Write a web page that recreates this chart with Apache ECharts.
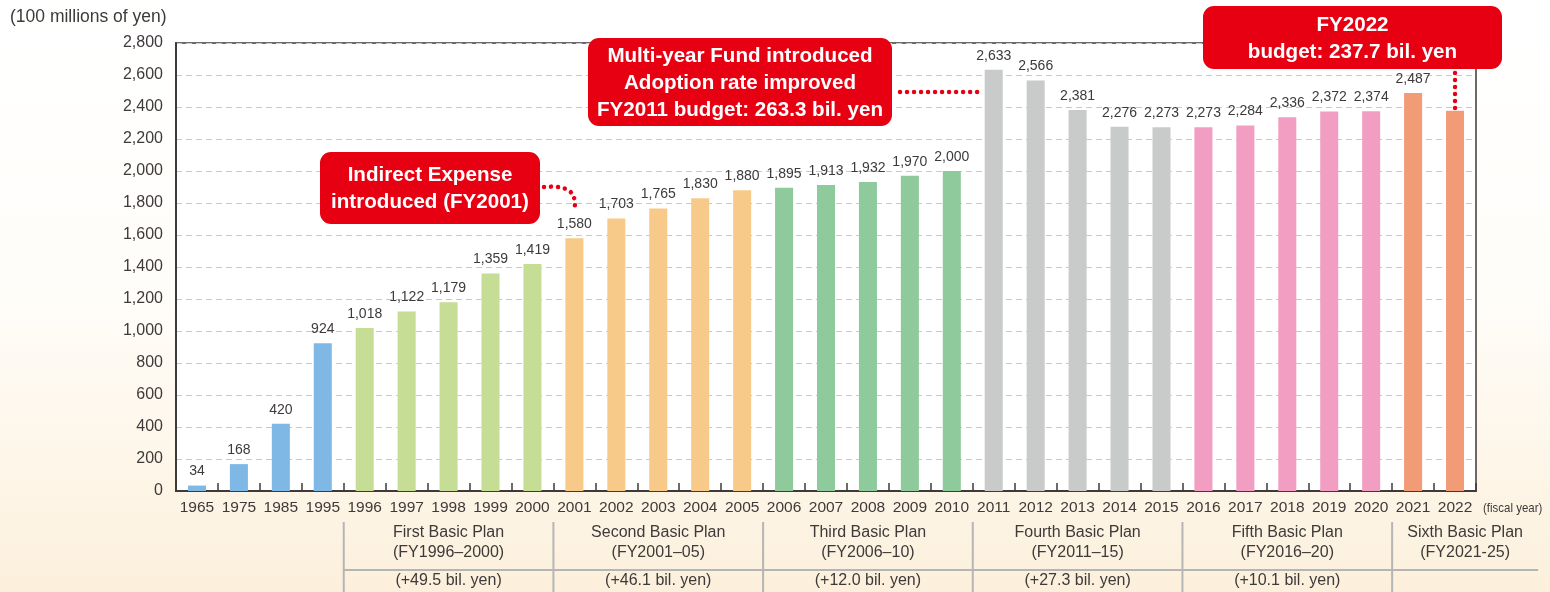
<!DOCTYPE html>
<html><head><meta charset="utf-8">
<script src="https://cdn.jsdelivr.net/npm/echarts@6/dist/echarts.min.js"></script>
<style>html,body{margin:0;padding:0;background:#fff;}#c{width:1550px;height:592px;}</style>
</head><body><div id="c"></div>
<script>
// ---- data ----
const categories = ['1965','1975','1985','1995','1996','1997','1998','1999','2000','2001','2002','2003','2004','2005','2006','2007','2008','2009','2010','2011','2012','2013','2014','2015','2016','2017','2018','2019','2020','2021','2022'];
const values = [34,168,420,924,1018,1122,1179,1359,1419,1580,1703,1765,1830,1880,1895,1913,1932,1970,2000,2633,2566,2381,2276,2273,2273,2284,2336,2372,2374,2487,2377];
const yMin = 0, yMax = 2800, yStep = 200;
const unitLabel = '(100 millions of yen)';
const xUnitLabel = '(fiscal year)';
const planNames = ['First Basic Plan','Second Basic Plan','Third Basic Plan','Fourth Basic Plan','Fifth Basic Plan','Sixth Basic Plan'];
const planPeriods = ['(FY1996–2000)','(FY2001–05)','(FY2006–10)','(FY2011–15)','(FY2016–20)','(FY2021-25)'];
const planIncreases = ['(+49.5 bil. yen)','(+46.1 bil. yen)','(+12.0 bil. yen)','(+27.3 bil. yen)','(+10.1 bil. yen)',''];
const planFirstYear = ['1996','2001','2006','2011','2016','2021'];
const planLastYear = ['2000','2005','2010','2015','2020','2022'];
const noteTexts = [
  ['Indirect Expense','introduced (FY2001)'],
  ['Multi-year Fund introduced','Adoption rate improved','FY2011 budget: 263.3 bil. yen'],
  ['FY2022','budget: 237.7 bil. yen']
];
const noteYears = ['2001','2011','2022'];

// ---- styles ----
const preColor = '#7fb8e4';
const planColors = ['#c5dd95','#f8ca89','#8fca9c','#c9caca','#f19ec2','#f29c77'];
const txt = '#3e3a39';
const red = '#e60012';
const fontMain = '"Liberation Sans", Arial, sans-serif';

function colorFor(i){
  const y = +categories[i];
  for (let p = 0; p < planFirstYear.length; p++) {
    if (y >= +planFirstYear[p] && y <= +planLastYear[p]) return planColors[p];
  }
  return preColor;
}
const hiddenLabelIdx = categories.indexOf('2022');
const barData = values.map((v,i)=>({
  value: v,
  itemStyle:{color: colorFor(i)},
  label:{show: i !== hiddenLabelIdx}
}));

const chart = echarts.init(document.getElementById('c'), null, {renderer:'canvas'});
chart.setOption({
  animation:false,
  backgroundColor: new echarts.graphic.LinearGradient(0,0,0,1,[
    {offset:0,color:'#ffffff'},{offset:0.5,color:'#fffdf9'},{offset:1,color:'#fcf0dc'}]),
  grid:{left:176,right:74,top:43,bottom:101,show:true,backgroundColor:'#fff',borderColor:txt,borderWidth:1.5},
  xAxis:{type:'category',data:categories,
    axisLine:{lineStyle:{color:txt,width:2}},
    axisTick:{show:true,inside:true,length:8,alignWithLabel:false,lineStyle:{color:txt,width:1.5}},
    axisLabel:{color:txt,fontFamily:fontMain,fontSize:15.5,margin:9,interval:0}},
  yAxis:{type:'value',min:yMin,max:yMax,interval:yStep,
    axisLine:{show:true,lineStyle:{color:txt,width:2}},
    axisTick:{show:false},
    axisLabel:{color:txt,fontFamily:fontMain,fontSize:16,margin:13,formatter:v=>v.toLocaleString('en-US')},
    splitLine:{lineStyle:{color:'#c9caca',type:[6,4],width:1}}},
  series:[{type:'bar',data:barData,barWidth:'43%',
    label:{show:true,position:'top',distance:7,color:txt,fontFamily:fontMain,fontSize:14,
      formatter:p=>p.value.toLocaleString('en-US')}}]
});

function px(cat,val){ return chart.convertToPixel({gridIndex:0},[cat,val]); }
const catW = px(categories[1],0)[0]-px(categories[0],0)[0];
const g = [];
// unit labels
g.push({type:'text',left:10,top:8,style:{text:unitLabel,fill:txt,fontFamily:fontMain,fontSize:17.5}});
const lastX = px(categories[categories.length-1],0);
g.push({type:'text',x:lastX[0]+catW/2+7,y:lastX[1]+17,scaleX:0.85,style:{text:xUnitLabel,fill:txt,fontFamily:fontMain,fontSize:13.5,verticalAlign:'middle'}});

// plan table
const lineCol = '#b5b5b6';
const tTop = 522, tMid = 570, tBot = 592;
const tableExtra = 146 - 2*catW; // last column extends beyond the final category
for (let p=0;p<planNames.length;p++){
  const x0 = px(planFirstYear[p],0)[0]-catW/2;
  let x1 = px(planLastYear[p],0)[0]+catW/2;
  if (p === planNames.length-1) x1 += tableExtra;
  const cx = (x0+x1)/2;
  g.push({type:'line',shape:{x1:x0,y1:tTop,x2:x0,y2:tBot},style:{stroke:lineCol,lineWidth:2}});
  g.push({type:'text',x:cx,y:533,style:{text:planNames[p],fill:txt,fontFamily:fontMain,fontSize:16,align:'center',verticalAlign:'middle'}});
  g.push({type:'text',x:cx,y:553,style:{text:planPeriods[p],fill:txt,fontFamily:fontMain,fontSize:16,align:'center',verticalAlign:'middle'}});
  if (planIncreases[p]) g.push({type:'text',x:cx,y:581,style:{text:planIncreases[p],fill:txt,fontFamily:fontMain,fontSize:16,align:'center',verticalAlign:'middle'}});
  if (p === planNames.length-1) {
    const firstX = px(planFirstYear[0],0)[0]-catW/2;
    g.push({type:'line',shape:{x1:firstX,y1:tMid,x2:x1,y2:tMid},style:{stroke:lineCol,lineWidth:2}});
  }
}

// annotations
const boxes = [
  {x:320,y:152,w:220,h:72},
  {x:588,y:38,w:304,h:88},
  {x:1203,y:6,w:299,h:63}
];
const dot = {stroke:red,lineWidth:4.5,lineDash:[0.01,7],lineCap:'round',fill:null};
noteTexts.forEach((lines,k)=>{
  const b = boxes[k];
  g.push({type:'rect',shape:{x:b.x,y:b.y,width:b.w,height:b.h,r:11},style:{fill:red}});
  g.push({type:'text',x:b.x+b.w/2,y:b.y+b.h/2+1,scaleX:0.98,style:{text:lines.join('\n'),fill:'#fff',fontFamily:fontMain,fontWeight:'bold',fontSize:21,lineHeight:27,align:'center',verticalAlign:'middle'}});
});
// connector 1: to 2001 label
{
  const p = px(noteYears[0], values[categories.indexOf(noteYears[0])]);
  const b = boxes[0];
  const sx = b.x+b.w+4, sy = b.y+35;
  g.push({type:'polyline',shape:{points:[[sx,sy],[sx+14,sy],[p[0]-5,sy+4],[p[0],sy+12],[p[0],p[1]-26]],smooth:0.4},style:dot});
}
// connector 2: to 2011 bar
{
  const p = px(noteYears[1], values[categories.indexOf(noteYears[1])]);
  const b = boxes[1];
  g.push({type:'line',shape:{x1:b.x+b.w+8,y1:92,x2:p[0]-catW*0.3,y2:92},style:dot});
}
// connector 3: to 2022 bar
{
  const p = px(noteYears[2], values[categories.indexOf(noteYears[2])]);
  const b = boxes[2];
  g.push({type:'line',shape:{x1:p[0],y1:b.y+b.h+4,x2:p[0],y2:p[1]},style:dot});
}
chart.setOption({graphic:g});
</script></body></html>
